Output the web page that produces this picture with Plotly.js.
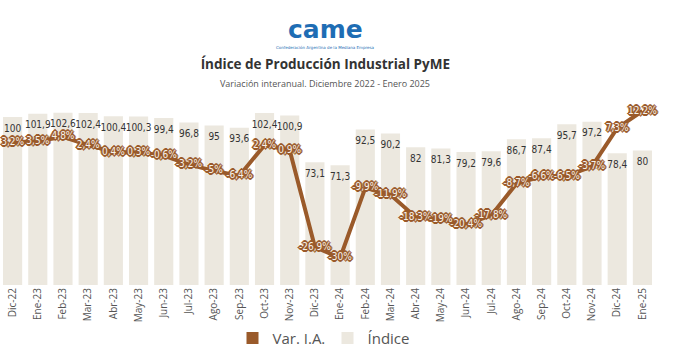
<!DOCTYPE html>
<html>
<head>
<meta charset="utf-8">
<script src="https://cdn.plot.ly/plotly-3.0.1.min.js"></script>
<style>
html,body{margin:0;padding:0;background:#fff;}
#chart{width:675px;height:357px;}
</style>
</head>
<body>
<div id="chart"></div>
<script>
var months = ["Dic-22","Ene-23","Feb-23","Mar-23","Abr-23","May-23","Jun-23","Jul-23","Ago-23","Sep-23","Oct-23","Nov-23","Dic-23","Ene-24","Feb-24","Mar-24","Abr-24","May-24","Jun-24","Jul-24","Ago-24","Sep-24","Oct-24","Nov-24","Dic-24","Ene-25"];
var indice = [100,101.9,102.6,102.4,100.4,100.3,99.4,96.8,95,93.6,102.4,100.9,73.1,71.3,92.5,90.2,82,81.3,79.2,79.6,86.7,87.4,95.7,97.2,78.4,80];
var varIA = [3.2,3.5,4.8,2.4,0.4,0.3,-0.6,-3.2,-5,-6.4,2.4,0.9,-26.9,-30,-9.9,-11.9,-18.3,-19,-20.4,-17.8,-8.7,-6.6,-6.5,-3.7,7.3,12.2];

function fmt(v){ return String(v).replace('.', ','); }
var indiceText = indice.map(fmt);
var varText = varIA.map(function(v){ return fmt(v) + '%'; });

var brown = '#9a5a2a';
var beige = '#ece8df';
var halo = [];
[[1,0],[-1,0],[0,1],[0,-1],[1,1],[-1,-1],[1,-1],[-1,1],[2,0],[-2,0],[0,2],[0,-2]].forEach(function(o){
  halo.push(o[0]+'px '+o[1]+'px 0 '+brown);
});
var labelFont = 'DejaVu Sans Condensed, DejaVu Sans';

var traces = [
  {
    type:'bar', x:[null], y:[null], name:'Var. I.A.', marker:{color:brown}, showlegend:true, hoverinfo:'skip'
  },
  {
    type:'bar', x:months, y:indice, name:'Índice', yaxis:'y',
    marker:{color:beige}, hoverinfo:'skip', showlegend:true
  },
  {
    type:'scatter', mode:'text', x:months, y:indice, text:indiceText, yaxis:'y3',
    textposition:'bottom center', textfont:{family:labelFont, size:10, color:'#333'},
    showlegend:false, hoverinfo:'skip', cliponaxis:false
  },
  {
    type:'scatter', mode:'lines+text', x:months, y:varIA, text:varText, yaxis:'y2',
    name:'Var. I.A.', line:{color:brown, width:4},
    textposition:'middle center',
    textfont:{family:labelFont, size:10, color:'#f6f1ea', shadow:halo.join(', ')},
    showlegend:false, hoverinfo:'skip', cliponaxis:false
  }
];

var layout = {
  width:675, height:357,
  margin:{l:0, r:20, t:95, b:72},
  paper_bgcolor:'#fff', plot_bgcolor:'#fff',
  bargap:0.24, barmode:'overlay',
  showlegend:true,
  legend:{orientation:'h', x:0.5, xanchor:'center', y:-0.28, yanchor:'middle', entrywidth:50,
          font:{family:'Open Sans', size:15, color:'#555'}, itemwidth:30, traceorder:'normal'},
  title:{text:'<b>Índice de Producción Industrial PyME</b>', x:0.482, xanchor:'center', y:1-64/357, yanchor:'middle',
         font:{family:'Open Sans', size:13.5, color:'#333'}},
  xaxis:{type:'category', range:[-0.5,25.5], tickangle:-90, showgrid:false, zeroline:false, showline:false,
         ticks:'', tickfont:{family:'Open Sans', size:10, color:'#555'}},
  yaxis:{range:[0,113.1], visible:false, showgrid:false, zeroline:false},
  yaxis2:{range:[-37.8,16.8], overlaying:'y', visible:false, showgrid:false, zeroline:false},
  yaxis3:{range:[4.2,117.3], overlaying:'y', visible:false, showgrid:false, zeroline:false},
  annotations:[
    {text:'Variación interanual. Diciembre 2022 - Enero 2025', xref:'paper', yref:'paper', x:0.496, y:(285-83)/190,
     xanchor:'center', yanchor:'middle', showarrow:false, font:{family:'Open Sans', size:9, color:'#555'}},
    {text:'<b>came</b>', xref:'paper', yref:'paper', x:325/655, y:(285-29)/190, xanchor:'center', yanchor:'middle',
     showarrow:false, font:{family:'DejaVu Sans', size:25, color:'#1e6db4'}},
    {text:'Confederación Argentina de la Mediana Empresa', xref:'paper', yref:'paper', x:325/655, y:(285-48)/190,
     xanchor:'center', yanchor:'middle', showarrow:false, font:{family:'DejaVu Sans', size:4, color:'#1e6db4'}}
  ]
};

Plotly.newPlot('chart', traces, layout, {displayModeBar:false, staticPlot:true});
</script>
</body>
</html>
